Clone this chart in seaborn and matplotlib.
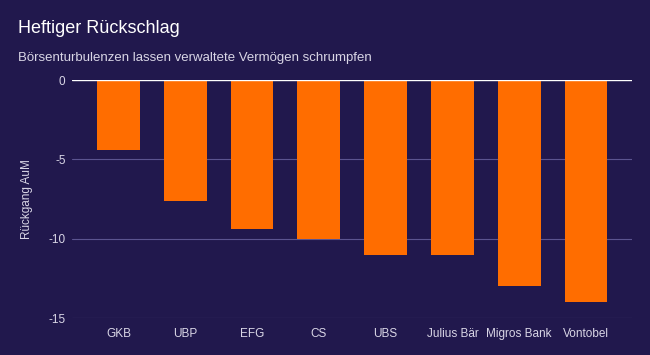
import matplotlib
matplotlib.use("Agg")
import matplotlib.pyplot as plt
import seaborn as sns
import pandas as pd

# data
banks = ["GKB", "UBP", "EFG", "CS", "UBS", "Julius Bär", "Migros Bank", "Vontobel"]
decline = [-4.4, -7.6, -9.4, -10.0, -11.0, -11.0, -13.0, -14.0]
yticks = [0, -5, -10, -15]

bg = "#21184d"
bar_color = "#ff6d00"
text_color = "#d9d6e6"

df = pd.DataFrame({"bank": banks, "decline": decline})

sns.set_theme(style="dark")
plt.rcParams["font.family"] = ["Liberation Sans", "DejaVu Sans"]

fig = plt.figure(figsize=(6.5, 3.55), dpi=100, facecolor=bg)
ax = fig.add_axes([0.1115, 0.1042, 0.8608, 0.6704], facecolor=bg)

sns.barplot(data=df, x="bank", y="decline", color=bar_color, width=0.64,
            saturation=1, ax=ax, zorder=3, edgecolor="none", linewidth=0)

ax.set_ylim(-15, 0)
ax.set_xlim(-0.69, len(banks) - 0.31)
ax.set_yticks(yticks)
ax.set_yticklabels([str(t) for t in yticks])
for t in yticks:
    if t == 0:
        ax.axhline(t, color="#ffffff", lw=1.0, zorder=4)
    else:
        ax.axhline(t, color="#5b5490", lw=0.8, zorder=1)

for s in ax.spines.values():
    s.set_visible(False)
ax.grid(False)
ax.tick_params(axis="both", length=0, colors=text_color, labelsize=8.5)
ax.tick_params(axis="x", pad=7)
ax.tick_params(axis="y", pad=5)
ax.set_xlabel("")
ax.set_ylabel("Rückgang AuM", color=text_color, fontsize=8.5, labelpad=11)

fig.text(0.028, 0.907, "Heftiger Rückschlag", color="white", fontsize=13,
         ha="left", va="baseline")
fig.text(0.028, 0.828, "Börsenturbulenzen lassen verwaltete Vermögen schrumpfen",
         color=text_color, fontsize=9.5, ha="left", va="baseline")

fig.savefig("out.png", dpi=100, facecolor=bg)
